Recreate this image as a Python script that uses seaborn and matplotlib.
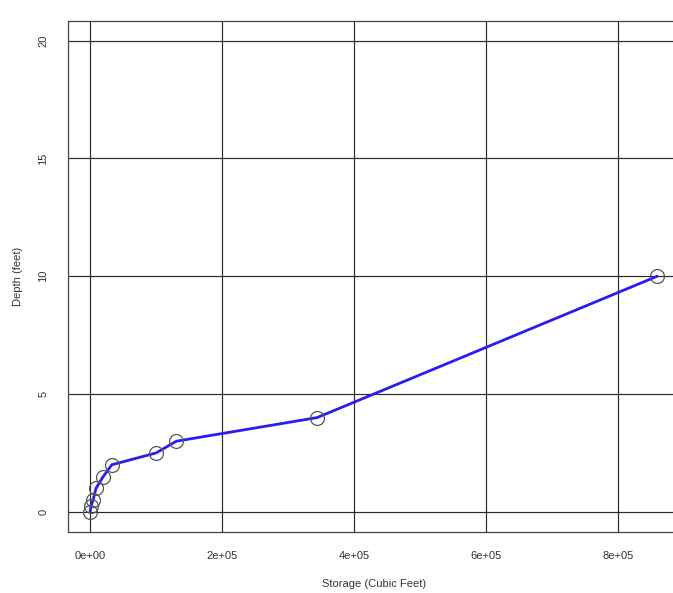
import matplotlib
matplotlib.use("Agg")
import matplotlib.pyplot as plt
import seaborn as sns

# stage-storage values
storage = [0, 1500, 4500, 9000, 20000, 33000, 100000, 131000, 344000, 860000]
depth = [0.0, 0.25, 0.5, 1.0, 1.5, 2.0, 2.5, 3.0, 4.0, 10.0]
x_ticks = [0, 200000, 400000, 600000, 800000]
x_labels = ["0e+00", "2e+05", "4e+05", "6e+05", "8e+05"]
y_ticks = [0, 5, 10, 15, 20]

sns.set_style("white")
plt.rcParams["font.family"] = ["Liberation Sans", "DejaVu Sans"]

fig = plt.figure(figsize=(6.73, 5.93), dpi=100)
ax = fig.add_axes([0.101, 0.103, 0.909, 0.862])

# grid first, underneath the data
for xv in x_ticks:
    ax.axvline(xv, color="#2a2a2a", lw=0.85, zorder=1)
for yv in y_ticks:
    ax.axhline(yv, color="#2a2a2a", lw=0.85, zorder=1)

sns.lineplot(x=storage, y=depth, sort=False, estimator=None, ax=ax,
             color="#2a1cf0", lw=2, zorder=3)
ax.plot(storage, depth, ls="none", marker="o", ms=10, mfc="none",
        mec="#555555", mew=0.9, zorder=4)

ax.set_xlim(-33500, 894000)
ax.set_ylim(-0.85, 20.84)
ax.set_xticks(x_ticks)
ax.set_xticklabels(x_labels)
ax.set_yticks(y_ticks)
ax.set_yticklabels([str(v) for v in y_ticks], rotation=90, va="center")
ax.tick_params(axis="both", labelsize=8, labelcolor="#333333",
               length=0, pad=14)
ax.set_xlabel("Storage (Cubic Feet)", fontsize=8, color="#333333", labelpad=13)
ax.set_ylabel("Depth (feet)", fontsize=8, color="#333333", labelpad=11)

for sp in ax.spines.values():
    sp.set_color("#444444")
    sp.set_linewidth(0.9)

fig.savefig("out.png", dpi=100)
